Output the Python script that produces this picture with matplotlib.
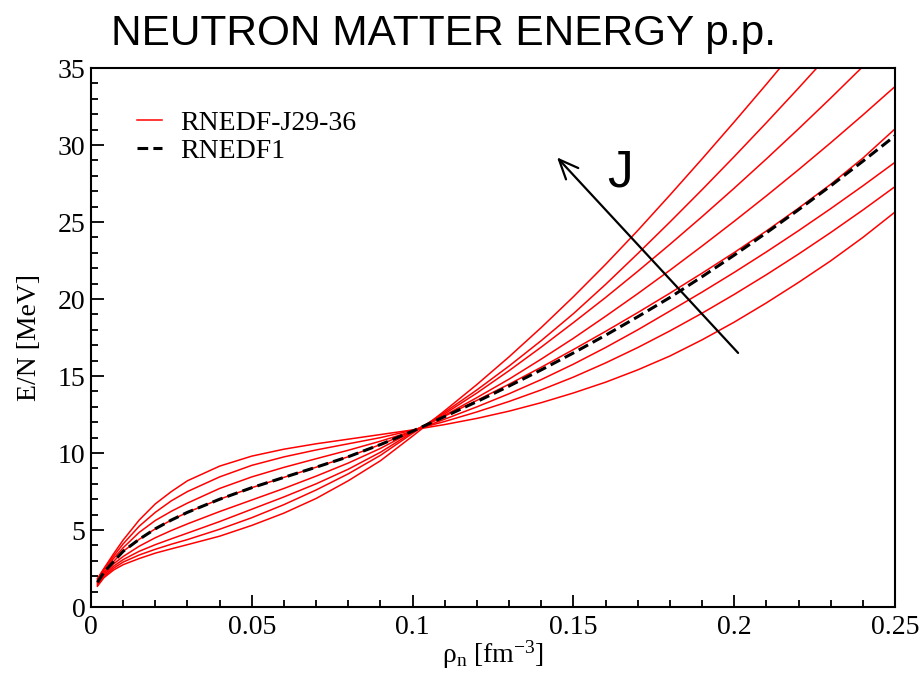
import matplotlib
matplotlib.use("Agg")
import matplotlib.pyplot as plt
from matplotlib.ticker import MultipleLocator

plt.rcParams["font.family"] = "Liberation Serif"
plt.rcParams["mathtext.fontset"] = "custom"
plt.rcParams["mathtext.rm"] = "Liberation Serif"
plt.rcParams["mathtext.it"] = "Liberation Serif:italic"

# ── data (rho_n in fm^-3, E/N in MeV) ──
RHO = [0.002, 0.004, 0.007, 0.01, 0.015, 0.02, 0.025, 0.03, 0.04, 0.05,
       0.06, 0.07, 0.08, 0.09, 0.1, 0.11, 0.12, 0.13, 0.14, 0.15,
       0.16, 0.17, 0.18, 0.19, 0.2, 0.21, 0.22, 0.23, 0.24, 0.25]

J29 = [1.85, 2.5, 3.45, 4.35, 5.65, 6.7, 7.5, 8.2, 9.15, 9.8,
       10.25, 10.6, 10.9, 11.2, 11.5, 11.85, 12.25, 12.72, 13.27, 13.9,
       14.6, 15.4, 16.3, 17.35, 18.5, 19.75, 21.08, 22.48, 24.0, 25.65]
J30 = [1.78, 2.45, 3.3, 4.1, 5.25, 6.15, 6.9, 7.5, 8.45, 9.2,
       9.75, 10.2, 10.6, 11.0, 11.48, 12.05, 12.67, 13.35, 14.1, 14.93,
       15.85, 16.85, 17.93, 19.08, 20.3, 21.58, 22.92, 24.32, 25.78, 27.3]
J31 = [1.7, 2.38, 3.15, 3.85, 4.85, 5.62, 6.22, 6.75, 7.7, 8.45,
       9.07, 9.63, 10.18, 10.77, 11.42, 12.2, 13.0, 13.85, 14.77, 15.77,
       16.85, 18.0, 19.22, 20.45, 21.73, 23.06, 24.44, 25.87, 27.35, 28.88]
J32 = [1.6, 2.25, 2.95, 3.62, 4.4, 5.08, 5.65, 6.15, 7.0, 7.75,
       8.42, 9.08, 9.76, 10.55, 11.42, 12.4, 13.42, 14.47, 15.57, 16.72,
       17.9, 19.12, 20.38, 21.68, 23.02, 24.42, 25.9, 27.45, 29.15, 31.05]
J33 = [1.56, 2.17, 2.8, 3.28, 3.95, 4.5, 4.97, 5.4, 6.2, 6.95,
       7.7, 8.5, 9.35, 10.3, 11.4, 12.45, 13.6, 14.8, 16.1, 17.45,
       18.88, 20.35, 21.87, 23.44, 25.05, 26.7, 28.4, 30.15, 31.95, 33.8]
J34 = [1.49, 2.07, 2.65, 3.08, 3.62, 4.05, 4.43, 4.8, 5.55, 6.35,
       7.15, 8.0, 8.95, 10.05, 11.35, 12.55, 13.9, 15.35, 16.88, 18.47,
       20.1, 21.8, 23.55, 25.35, 27.2, 29.1, 31.05, 33.05, 35.1, 37.2]
J35 = [1.42, 1.98, 2.52, 2.92, 3.38, 3.75, 4.08, 4.38, 5.05, 5.8,
       6.65, 7.6, 8.65, 9.85, 11.28, 12.65, 14.1, 15.65, 17.3, 19.05,
       20.95, 22.95, 25.0, 27.1, 29.25, 31.45, 33.7, 36.0, 38.35, 40.75]
J36 = [1.35, 1.9, 2.4, 2.75, 3.15, 3.5, 3.78, 4.05, 4.6, 5.3,
       6.1, 7.05, 8.2, 9.5, 11.1, 12.75, 14.45, 16.25, 18.15, 20.15,
       22.25, 24.45, 26.75, 29.1, 31.5, 33.95, 36.45, 39.0, 41.6, 44.25]
RNEDF1 = [1.6, 2.25, 2.95, 3.62, 4.4, 5.08, 5.65, 6.15, 7.0, 7.75,
          8.42, 9.08, 9.76, 10.55, 11.42, 12.37, 13.34, 14.35, 15.4, 16.5,
          17.65, 18.85, 20.1, 21.45, 22.85, 24.3, 25.8, 27.35, 28.95, 30.6]

RED_CURVES = [J29, J30, J31, J32, J33, J34, J35, J36]

XTICKS = [0, 0.05, 0.1, 0.15, 0.2, 0.25]
XTICKLABELS = ["0", "0.05", "0.1", "0.15", "0.2", "0.25"]
YTICKS = [0, 5, 10, 15, 20, 25, 30, 35]
YTICKLABELS = ["0", "5", "10", "15", "20", "25", "30", "35"]

# arrow (tail -> head) and its label, in data units
ARROW_TAIL = (0.2012, 16.5)
ARROW_HEAD = (0.1449, 29.2)
J_POS = (0.1645, 28.2)

fig = plt.figure(figsize=(9.23, 6.88), dpi=100)
ax = fig.add_axes([0.0986, 0.1177, 0.8711, 0.7834])

for i, e in enumerate(RED_CURVES):
    ax.plot(RHO, e, color="#ff0000", lw=1.1,
            label="RNEDF-J29-36" if i == 0 else None)
ax.plot(RHO, RNEDF1, color="black", lw=2.2, ls="--", dashes=(3.5, 1.7),
        label="RNEDF1")

ax.annotate("", xy=ARROW_HEAD, xytext=ARROW_TAIL,
            arrowprops=dict(arrowstyle="->,head_length=0.7,head_width=0.3",
                            color="black", lw=1.6, mutation_scale=20,
                            shrinkA=0, shrinkB=0))
ax.text(*J_POS, "J", family="Liberation Sans", fontsize=37,
        ha="center", va="center")

ax.set_xlim(0, 0.25)
ax.set_ylim(0, 35)
ax.set_xticks(XTICKS)
ax.set_xticklabels(XTICKLABELS)
ax.set_yticks(YTICKS)
ax.set_yticklabels(YTICKLABELS)
ax.xaxis.set_minor_locator(MultipleLocator(0.01))
ax.yaxis.set_minor_locator(MultipleLocator(1))
ax.tick_params(which="both", direction="in", top=False, right=False,
               width=1.3, labelsize=20)
ax.tick_params(axis="x", which="major", length=9, pad=6)
ax.tick_params(axis="y", which="major", length=9, pad=4)
ax.tick_params(which="minor", length=5)
for sp in ax.spines.values():
    sp.set_linewidth(1.5)

ax.set_ylabel("E/N [MeV]", fontsize=20)
ax.yaxis.set_label_coords(-0.061, 0.5)
ax.set_xlabel(r"$\mathregular{\rho_n}$ [fm$^{\mathregular{-3}}$]", fontsize=20)
ax.xaxis.set_label_coords(0.5, -0.058)

ax.legend(loc="upper left", bbox_to_anchor=(0.057, 0.922), frameon=False,
          fontsize=20, handlelength=0.9, handletextpad=0.65,
          borderpad=0, borderaxespad=0, labelspacing=0.1)

fig.text(0.48, 1 - 45 / 688, "NEUTRON MATTER ENERGY p.p.",
         family="Liberation Sans", fontsize=30.5, ha="center", va="baseline")

fig.savefig("out.png", dpi=100)
